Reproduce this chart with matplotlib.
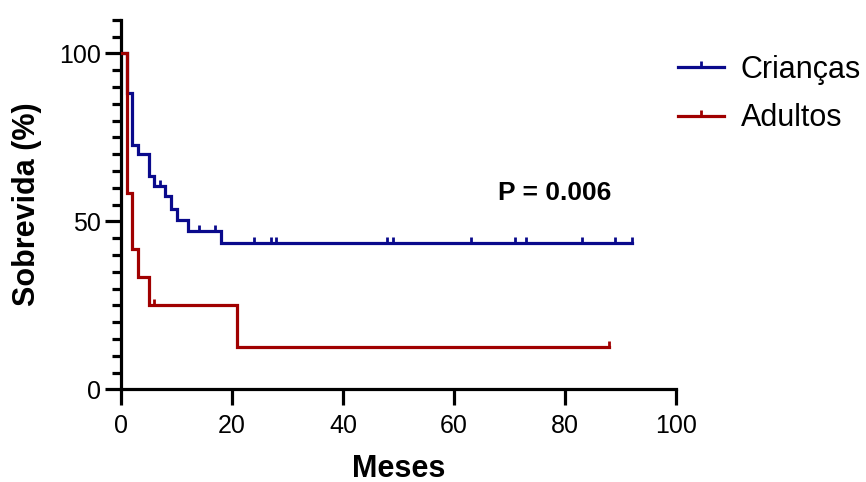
import matplotlib
matplotlib.use("Agg")
import matplotlib.pyplot as plt
from matplotlib.path import Path
from matplotlib.lines import Line2D

plt.rcParams['font.family'] = ['Liberation Sans', 'DejaVu Sans']

# Kaplan-Meier step data (months, survival %)
kids_t = [0, 1.0, 2.0, 3.0, 5.1, 5.9, 8.0, 9.0, 10.0, 12.0, 18.0, 92]
kids_s = [100, 88.2, 72.8, 70.0, 63.6, 60.6, 57.4, 53.8, 50.4, 47.0, 43.4, 43.4]
kids_cens_t = [7, 14, 17, 24, 27, 28, 48, 49, 63, 71, 73, 83, 89, 92]

adult_t = [0, 1.0, 2.0, 3.0, 5.0, 20.9, 88]
adult_s = [100, 58.3, 41.7, 33.3, 25.0, 12.5, 12.5]
adult_cens_t = [6, 88]

labels = ['Crianças', 'Adultos']
colors = ['#0A0A8C', '#A00000']
p_text = 'P = 0.006'

def surv_at(ts, ss, t):
    val = ss[0]
    for ti, si in zip(ts, ss):
        if t >= ti:
            val = si
    return val

tick_marker = Path([(0, 0), (0, 1)], [Path.MOVETO, Path.LINETO])

fig = plt.figure(figsize=(8.66, 4.82), dpi=100)
ax = fig.add_axes([121/866, 1 - 389.3/482, 555/866, (389.3 - 19.7)/482])

lw = 2.3
for ts, ss, ct, col in [(kids_t, kids_s, kids_cens_t, colors[0]),
                        (adult_t, adult_s, adult_cens_t, colors[1])]:
    ax.step(ts, ss, where='post', color=col, lw=lw, solid_joinstyle='miter', zorder=3)
    cs = [surv_at(ts, ss, t) for t in ct]
    ax.plot(ct, cs, linestyle='none', marker=tick_marker, markersize=9,
            markeredgewidth=2.0, color=col, zorder=3)

ax.set_xlim(0, 100)
ax.set_ylim(0, 110)
ax.set_xticks([0, 20, 40, 60, 80, 100])
ax.set_yticks([0, 50, 100])
ax.set_yticks(list(range(5, 111, 5)), minor=True)
ax.spines['top'].set_visible(False)
ax.spines['right'].set_visible(False)
for s in ['left', 'bottom']:
    ax.spines[s].set_linewidth(2.3)
ax.tick_params(axis='both', which='major', length=11.5, width=2.3, labelsize=18, pad=3)
ax.tick_params(axis='x', which='major', pad=6.5)
ax.tick_params(axis='y', which='minor', length=6.5, width=2.3)
ax.patch.set_alpha(0)

ax.set_xlabel('Meses', fontsize=22, fontweight='bold', labelpad=11)
ax.set_ylabel('Sobrevida (%)', fontsize=22, fontweight='bold', labelpad=12)

ax.text(67.9, 58.4, p_text, fontsize=19, fontweight='bold', ha='left', va='center')

handles = [Line2D([], [], color=c, lw=lw, marker=tick_marker, markersize=9,
                  markeredgewidth=2.0) for c in colors]
fig.legend(handles, labels, loc='upper left', bbox_to_anchor=(678/866, 1 - 55/482),
           frameon=False, fontsize=22, handlelength=1.5, handletextpad=0.55,
           labelspacing=0.6, borderpad=0, borderaxespad=0)

fig.savefig('out.png', dpi=100)
